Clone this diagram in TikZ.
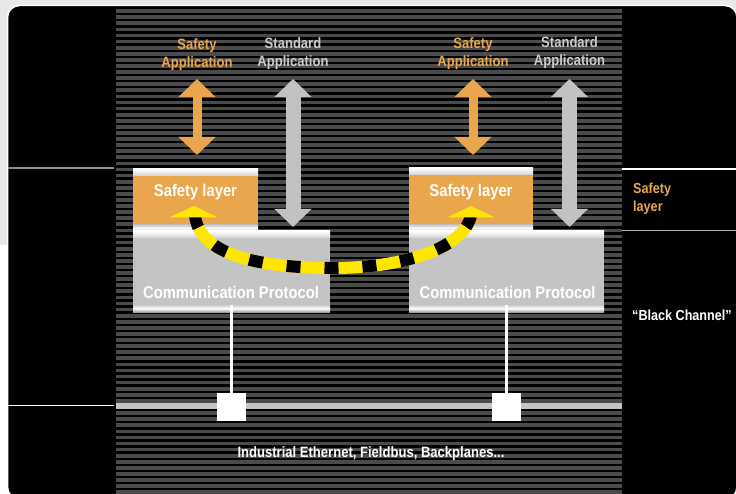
\documentclass[tikz,border=0pt]{standalone}
\usepackage{fontspec}
\setmainfont{Liberation Sans}[FakeStretch=0.87]
\usetikzlibrary{arrows.meta}
\definecolor{orng}{HTML}{EAA64C}
\definecolor{lgray}{HTML}{C4C4C4}
\definecolor{agray}{HTML}{C2C2C2}
\definecolor{tgray}{HTML}{CACACA}
\definecolor{stripe}{HTML}{4B4B4B}
\definecolor{ylw}{HTML}{FFE600}
\definecolor{bgray}{HTML}{E8E8E8}
\tikzset{
  lbl/.style={font=\fontsize{15pt}{18pt}\selectfont\bfseries, align=center, inner sep=0pt},
  boxtxt/.style={font=\fontsize{17pt}{19pt}\selectfont\bfseries, text=white, inner sep=0pt},
  sidetxt/.style={font=\fontsize{14.5pt}{18pt}\selectfont\bfseries, align=left, inner sep=0pt, anchor=west},
  orarrow/.style={orng, line width=9pt, {Triangle[width=36pt,length=18pt]}-{Triangle[width=36pt,length=18pt]}},
  grarrow/.style={agray, line width=15pt, {Triangle[width=36pt,length=18pt]}-{Triangle[width=36pt,length=18pt]}},
  topstrip/.style={top color=white, bottom color=white!82!black, draw=none},
  botstrip/.style={top color=white!80!black, bottom color=white!62!black, middle color=white, draw=none},
  sqr/.style={fill=white, draw=none, minimum width=29pt, minimum height=28pt, inner sep=0pt},
  wire/.style={white, line width=3pt},
  tunnel/.style={line width=12pt},
}
\begin{document}
\begin{tikzpicture}[x=1pt,y=-1pt]
\useasboundingbox (0,0) rectangle (736,494);
% page background
\fill[bgray] (0,0) rectangle (736,245);
\fill[white] (0,245) rectangle (736,494);
% black panel
\fill[black, draw=white, line width=1.5pt, rounded corners=12pt] (7.5,5.5) rectangle (737,499);
% striped middle
\begin{scope}
\clip (116,7) rectangle (622,494);
\foreach \i in {0,...,80} {
  \fill[stripe] (116,{9.3+\i*6.09}) rectangle (622,{9.3+\i*6.09+3.7});
}
\end{scope}
% side lines
\draw[white!55!black, line width=1.5pt] (8,168) -- (114,168);
\draw[white, line width=1.2pt] (8,405.5) -- (114,405.5);
\draw[white, line width=1.5pt] (622,169) -- (736,169);
\draw[white!70!black, line width=1.5pt] (622,230.5) -- (736,230.5);

% bus line
\fill[lgray] (116,403) rectangle (622,409);

% ---------- left stack ----------
\node[fill=orng, minimum width=125pt, minimum height=49pt, inner sep=0pt] (sl1) at (195.5,200.5) {};
\fill[topstrip] (133,169) rectangle (258,176);
\fill[botstrip] (133,225) rectangle (258,231.5);
\node[fill=lgray, minimum width=197pt, minimum height=67pt, inner sep=0pt] (cp1) at (231.5,271.5) {};
\fill[topstrip] (133,231) rectangle (330,238);
\fill[botstrip] (133,305) rectangle (330,312);
\node[boxtxt] (sl1t) at (195.5,192) {Safety layer};
\node[boxtxt] (cp1t) at (231,292) {Communication Protocol};

% ---------- right stack ----------
\node[fill=orng, minimum width=124pt, minimum height=49pt, inner sep=0pt] (sl2) at (471,200) {};
\fill[topstrip] (409,168) rectangle (533,175);
\fill[botstrip] (409,225) rectangle (533,231.5);
\node[fill=lgray, minimum width=195pt, minimum height=67pt, inner sep=0pt] (cp2) at (506.5,271.5) {};
\fill[topstrip] (409,231) rectangle (604,238);
\fill[botstrip] (409,305) rectangle (604,312);
\node[boxtxt] (sl2t) at (471,192) {Safety layer};
\node[boxtxt] (cp2t) at (507.5,292) {Communication Protocol};

% application labels
\node[lbl, text=orng] (sa1) at (197,55) {Safety\\Application};
\node[lbl, text=tgray] (st1) at (293,54) {Standard\\Application};
\node[lbl, text=orng] (sa2) at (473,54) {Safety\\Application};
\node[lbl, text=tgray] (st2) at (569.5,53) {Standard\\Application};

% double arrows
\coordinate (a1t) at (197,79);  \coordinate (a1b) at (197,155);
\coordinate (g1t) at (293,79);  \coordinate (g1b) at (293,227);
\coordinate (a2t) at (473,79);  \coordinate (a2b) at (473,155);
\coordinate (g2t) at (569.5,79);\coordinate (g2b) at (569.5,227);
\draw[orarrow] (a1t) -- (a1b);
\draw[grarrow] (g1t) -- (g1b);
\draw[orarrow] (a2t) -- (a2b);
\draw[grarrow] (g2t) -- (g2b);

% wires and bus taps
\node[sqr] (sq1) at (231.5,407) {};
\node[sqr] (sq2) at (506.5,407) {};
\draw[wire] (cp1.south) -- (sq1.north);
\draw[wire] (cp2.south) -- (sq2.north);

% safety tunnel (yellow/black)
\coordinate (h1) at (195,216);
\coordinate (h2) at (471,216);
\coordinate (mid) at (333,268);
\draw[tunnel, ylw] (h1) .. controls (200,255) and (260,268) .. (mid)
                            .. controls (400,268) and (462,250) .. (h2);
\draw[tunnel, black, dash pattern={on 14pt off 24pt}, dash phase=2pt] (h1) .. controls (200,255) and (260,268) .. (mid)
                            .. controls (400,268) and (462,250) .. (h2);
\fill[ylw] (169,217.5) -- (194,206) -- (218,217.5) -- cycle;
\fill[ylw] (447,217.5) -- (471,206) -- (495,217.5) -- cycle;

% side texts
\node[sidetxt, text=orng] (slr) at (633,199) {Safety\\layer};
\node[sidetxt, text=white] (bc) at (632,315) {“Black Channel”};
\node[lbl, text=white] (bus) at (371,454) {Industrial Ethernet, Fieldbus, Backplanes...};
\end{tikzpicture}
\end{document}
